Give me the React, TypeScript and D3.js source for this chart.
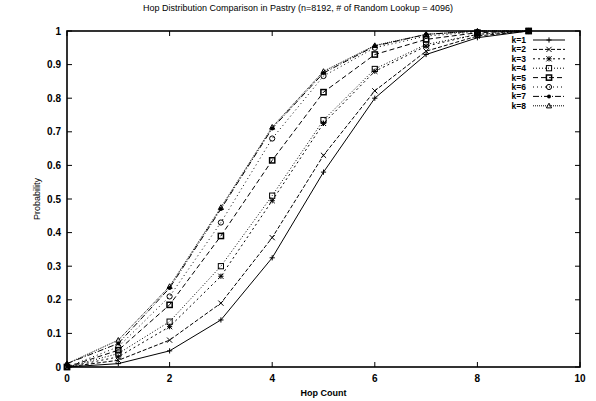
import React, { useEffect, useRef } from "react";
import * as d3 from "d3";

// hop counts on the x axis
const hops = [0, 1, 2, 3, 4, 5, 6, 7, 8, 9];

// cumulative probability per k
const k1 = [0, 0.01, 0.048, 0.14, 0.325, 0.58, 0.8, 0.93, 0.98, 1];
const k2 = [0, 0.02, 0.08, 0.19, 0.385, 0.63, 0.822, 0.94, 0.985, 1];
const k3 = [0, 0.03, 0.12, 0.27, 0.495, 0.725, 0.88, 0.955, 0.99, 1];
const k4 = [0, 0.04, 0.135, 0.3, 0.51, 0.735, 0.887, 0.96, 0.99, 1];
const k5 = [0, 0.05, 0.185, 0.39, 0.615, 0.818, 0.93, 0.975, 0.995, 1];
const k6 = [0, 0.06, 0.21, 0.43, 0.68, 0.866, 0.95, 0.985, 0.997, 1];
const k7 = [0.01, 0.07, 0.235, 0.47, 0.71, 0.875, 0.955, 0.99, 1, 1];
const k8 = [0.01, 0.08, 0.24, 0.475, 0.714, 0.88, 0.957, 0.99, 1, 1];

const seriesNames = ["k=1", "k=2", "k=3", "k=4", "k=5", "k=6", "k=7", "k=8"];
const seriesValues = [k1, k2, k3, k4, k5, k6, k7, k8];

const xTicks = [0, 2, 4, 6, 8, 10];
const yTicks = [0, 0.1, 0.2, 0.3, 0.4, 0.5, 0.6, 0.7, 0.8, 0.9, 1];

const title =
  "Hop Distribution Comparison in Pastry (n=8192, # of Random Lookup = 4096)";

const dashes = ["", "4,2", "2,3", "1,2", "5,3", "1,3", "6,2,1,2", "1,1"];

function drawMarker(g: any, type: number, cx: number, cy: number) {
  const s = 2.6;
  const p = g.append("g").attr("transform", `translate(${cx},${cy})`);
  const st = (sel: any) =>
    sel.attr("stroke", "#000").attr("stroke-width", 1).attr("fill", "none");
  if (type === 0) {
    st(p.append("path").attr("d", `M${-s},0H${s}M0,${-s}V${s}`));
  } else if (type === 1) {
    st(p.append("path").attr("d", `M${-s},${-s}L${s},${s}M${-s},${s}L${s},${-s}`));
  } else if (type === 2) {
    st(
      p
        .append("path")
        .attr(
          "d",
          `M${-s},0H${s}M0,${-s}V${s}M${-s},${-s}L${s},${s}M${-s},${s}L${s},${-s}`
        )
    );
  } else if (type === 3) {
    st(p.append("rect").attr("x", -s).attr("y", -s).attr("width", 2 * s).attr("height", 2 * s));
  } else if (type === 4) {
    st(p.append("rect").attr("x", -s).attr("y", -s).attr("width", 2 * s).attr("height", 2 * s))
      .attr("stroke-width", 1.5);
  } else if (type === 5) {
    st(p.append("circle").attr("r", s));
  } else if (type === 6) {
    p.append("circle").attr("r", s - 0.6).attr("fill", "#000");
  } else {
    st(p.append("path").attr("d", `M0,${-s}L${s},${s * 0.8}L${-s},${s * 0.8}Z`));
  }
}

function Chart() {
  const ref = useRef<SVGSVGElement>(null);

  useEffect(() => {
    const width = 596;
    const height = 401;
    const margin = { top: 31, left: 67, bottom: 34, right: 16 };
    const svg = d3.select(ref.current);
    svg.selectAll("*").remove();

    const x = d3.scaleLinear().domain([0, 10]).range([margin.left, width - margin.right]);
    const y = d3.scaleLinear().domain([0, 1]).range([height - margin.bottom, margin.top]);

    const font = "'Liberation Sans', Arial, sans-serif";

    // frame
    svg
      .append("rect")
      .attr("x", x(0))
      .attr("y", y(1))
      .attr("width", x(10) - x(0))
      .attr("height", y(0) - y(1))
      .attr("fill", "none")
      .attr("stroke", "#000")
      .attr("stroke-width", 1.6);

    // ticks inside, mirrored
    const tickG = svg.append("g").attr("stroke", "#000").attr("stroke-width", 1);
    yTicks.forEach((t) => {
      tickG.append("line").attr("x1", x(0)).attr("x2", x(0) + 5).attr("y1", y(t)).attr("y2", y(t));
      tickG.append("line").attr("x1", x(10)).attr("x2", x(10) - 5).attr("y1", y(t)).attr("y2", y(t));
    });
    xTicks.forEach((t) => {
      tickG.append("line").attr("x1", x(t)).attr("x2", x(t)).attr("y1", y(0)).attr("y2", y(0) - 5);
      tickG.append("line").attr("x1", x(t)).attr("x2", x(t)).attr("y1", y(1)).attr("y2", y(1) + 5);
    });

    svg
      .append("g")
      .selectAll("text")
      .data(yTicks)
      .enter()
      .append("text")
      .attr("x", x(0) - 6)
      .attr("y", (d) => y(d) + 3.5)
      .attr("text-anchor", "end")
      .attr("font-family", font)
      .attr("font-weight", "bold")
      .attr("font-size", 10)
      .text((d) => d3.format("~g")(d));

    svg
      .append("g")
      .selectAll("text")
      .data(xTicks)
      .enter()
      .append("text")
      .attr("x", (d) => x(d))
      .attr("y", y(0) + 15)
      .attr("text-anchor", "middle")
      .attr("font-family", font)
      .attr("font-weight", "bold")
      .attr("font-size", 10)
      .text((d) => d);

    // lines
    const line = d3
      .line<number>()
      .x((d, i) => x(hops[i]))
      .y((d) => y(d));

    seriesValues.forEach((vals, i) => {
      svg
        .append("path")
        .datum(vals)
        .attr("d", line)
        .attr("fill", "none")
        .attr("stroke", "#000")
        .attr("stroke-width", 1)
        .attr("stroke-dasharray", dashes[i]);
      const mg = svg.append("g");
      vals.forEach((v, j) => drawMarker(mg, i, x(hops[j]), y(v)));
    });

    // legend
    const legend = svg.append("g");
    seriesNames.forEach((name, i) => {
      const ly = 40 + i * 9.4;
      legend
        .append("text")
        .attr("x", 526)
        .attr("y", ly + 3)
        .attr("text-anchor", "end")
        .attr("font-family", font)
        .attr("font-weight", "bold")
        .attr("font-size", 8.5)
        .text(name);
      legend
        .append("line")
        .attr("x1", 533)
        .attr("x2", 565)
        .attr("y1", ly)
        .attr("y2", ly)
        .attr("stroke", "#000")
        .attr("stroke-width", 1)
        .attr("stroke-dasharray", dashes[i]);
      drawMarker(legend, i, 549, ly);
    });

    // title and axis labels
    svg
      .append("text")
      .attr("x", 298)
      .attr("y", 11)
      .attr("text-anchor", "middle")
      .attr("font-family", font)
      .attr("font-size", 9)
      .text(title);

    svg
      .append("text")
      .attr("x", (x(0) + x(10)) / 2)
      .attr("y", 396)
      .attr("text-anchor", "middle")
      .attr("font-family", font)
      .attr("font-weight", "bold")
      .attr("font-size", 9)
      .text("Hop Count");

    svg
      .append("text")
      .attr("transform", `translate(40,${(y(0) + y(1)) / 2}) rotate(-90)`)
      .attr("text-anchor", "middle")
      .attr("font-family", font)
      .attr("font-size", 9)
      .text("Probability");
  }, []);

  return <svg ref={ref} width={596} height={401} style={{ display: "block", background: "#fff" }} />;
}

export default function App() {
  return (
    <div style={{ position: "absolute", left: 0, top: 0 }}>
      <Chart />
    </div>
  );
}
